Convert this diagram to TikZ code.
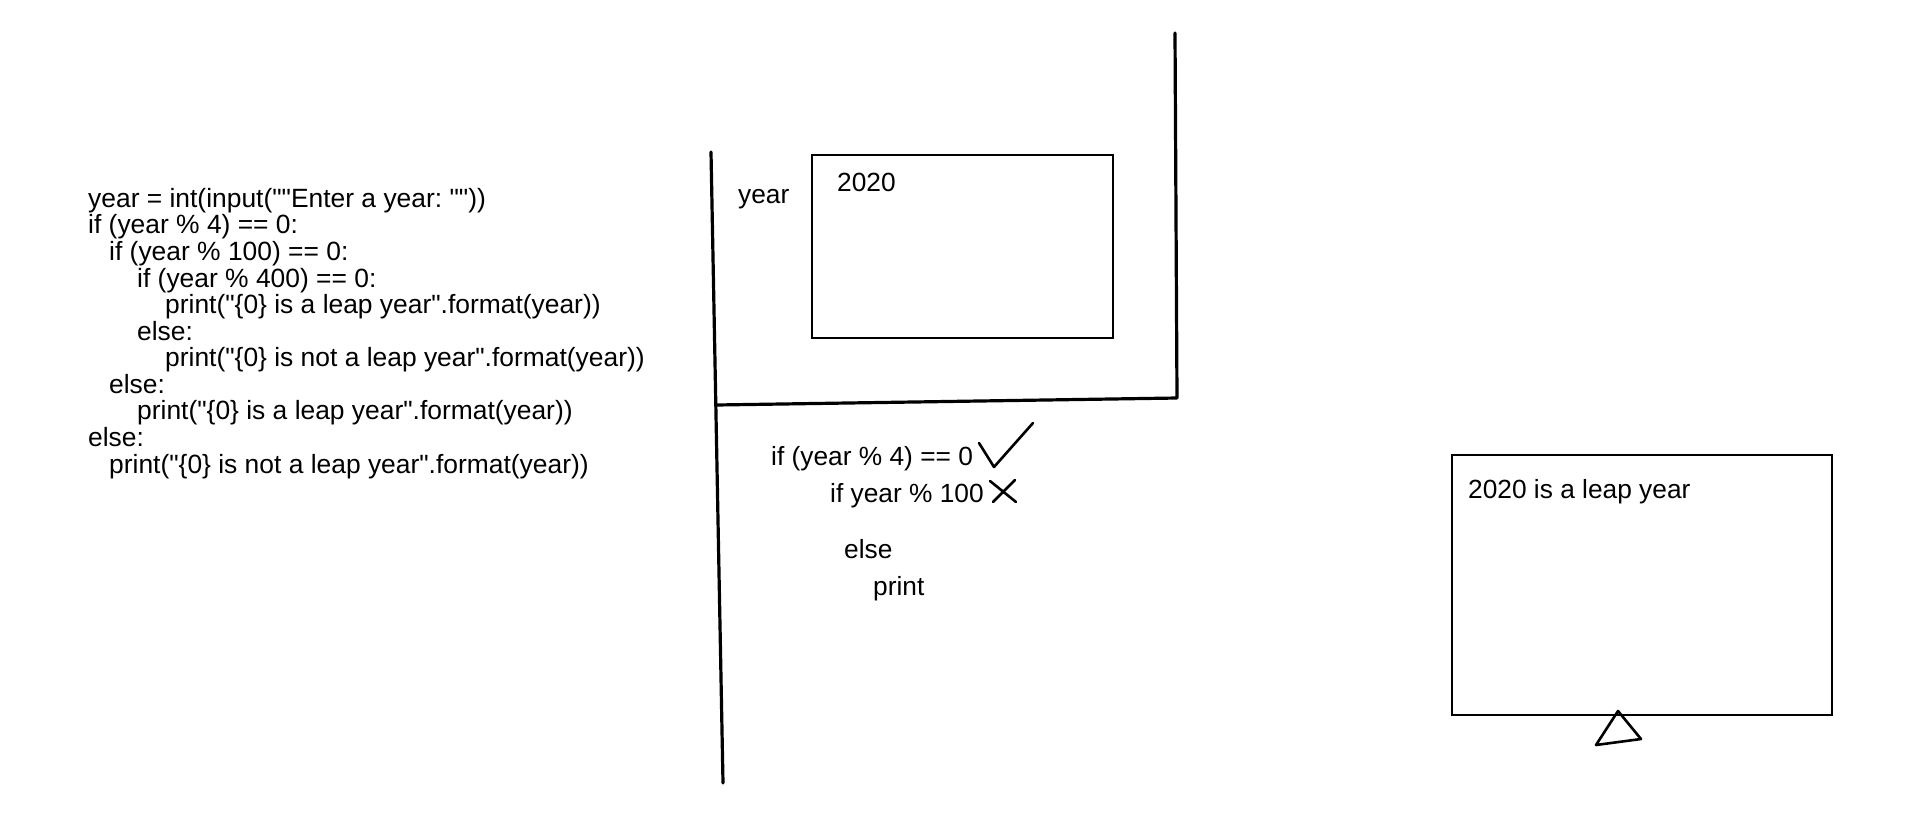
\documentclass[tikz,border=0pt]{standalone}
\usepackage{fontspec}
\setmainfont{Liberation Sans}[Ligatures=TeXOff]
\frenchspacing
\begin{document}
\begin{tikzpicture}[x=1pt,y=-1pt,
  codeline/.style={anchor=base west,inner sep=0pt,font=\fontsize{26.4}{30}\selectfont},
  lbl/.style={anchor=base west,inner sep=0pt,font=\fontsize{26.3}{30}\selectfont},
  thick line/.style={line width=3.2pt,line cap=round,line join=round},
  boxline/.style={line width=1.4pt},
  mark line/.style={line width=2.6pt,line cap=round,line join=round}]
\useasboundingbox (0,0) rectangle (1920,823);
% code listing
\node[codeline] (c1) at (88,207.3) {year = int(input(""Enter a year: ""))};
\node[codeline] (c2) at (88,233.9) {if (year \% 4) == 0:};
\node[codeline] (c3) at (109,260.4) {if (year \% 100) == 0:};
\node[codeline] (c4) at (137,287.0) {if (year \% 400) == 0:};
\node[codeline] (c5) at (165,313.6) {print("\{0\} is a leap year".format(year))};
\node[codeline] (c6) at (137,340.1) {else:};
\node[codeline] (c7) at (165,366.7) {print("\{0\} is not a leap year".format(year))};
\node[codeline] (c8) at (109,393.3) {else:};
\node[codeline] (c9) at (137,419.9) {print("\{0\} is a leap year".format(year))};
\node[codeline] (c10) at (88,446.4) {else:};
\node[codeline] (c11) at (109,473) {print("\{0\} is not a leap year".format(year))};
% frame lines
\coordinate (ltop) at (711,152);
\coordinate (lbot) at (723,783);
\coordinate (hl) at (716,405);
\coordinate (hr) at (1177,398);
\coordinate (rtop) at (1175,33);
\draw[thick line] (ltop) -- (lbot);
\draw[thick line] (hl) -- (hr) -- (rtop);
% variable box
\draw[boxline] (812,155) rectangle (1113,338);
\node[lbl] (yr) at (738,203) {year};
\node[lbl] (val) at (837,191) {2020};
% trace text
\node[lbl] (t1) at (771,465) {if (year \% 4) == 0};
\node[lbl] (t2) at (830,502) {if year \% 100};
\node[lbl] (t3) at (844,558) {else};
\node[lbl] (t4) at (873,595) {print};
\draw[mark line] (979,443) -- (994,467) -- (1033,423);
\draw[mark line] (990,481) -- (1016,502);
\draw[mark line] (1015,480) -- (993,502);
% output box
\draw[boxline] (1452,455) rectangle (1832,715);
\node[lbl] (out) at (1468,498) {2020 is a leap year};
\draw[mark line] (1618,711) -- (1641,739) -- (1596,745) -- cycle;
\end{tikzpicture}
\end{document}
